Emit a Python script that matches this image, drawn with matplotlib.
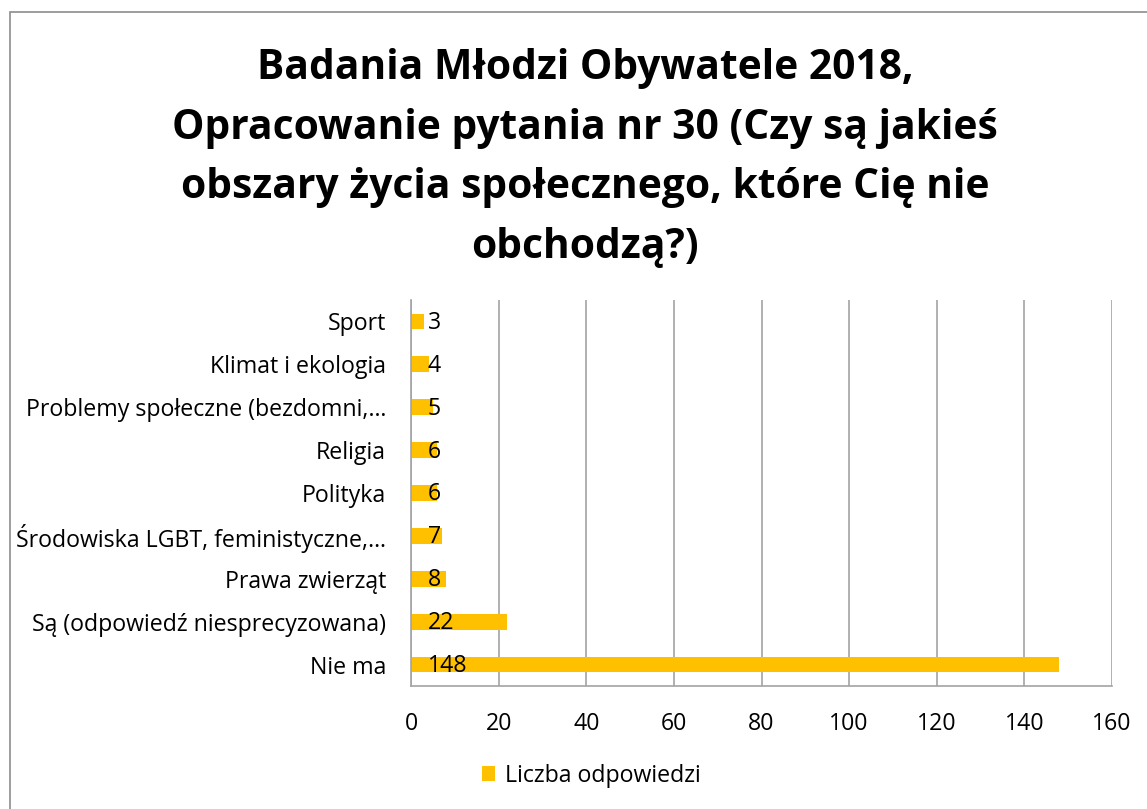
import matplotlib.pyplot as plt
from matplotlib.patches import Rectangle

categories = [
    "Nie ma",
    "Są (odpowiedź niesprecyzowana)",
    "Prawa zwierząt",
    "Środowiska LGBT, feministyczne,…",
    "Polityka",
    "Religia",
    "Problemy społeczne (bezdomni,…",
    "Klimat i ekologia",
    "Sport",
]
values = [148, 22, 8, 7, 6, 6, 5, 4, 3]
x_ticks = [0, 20, 40, 60, 80, 100, 120, 140, 160]
series_name = "Liczba odpowiedzi"
title = ("Badania Młodzi Obywatele 2018,\n"
         "Opracowanie pytania nr 30 (Czy są jakieś\n"
         "obszary życia społecznego, które Cię nie\n"
         "obchodzą?)")

plt.rcParams['font.family'] = ['Open Sans', 'DejaVu Sans']

W, H = 1147, 809
fig = plt.figure(figsize=(W / 100, H / 100), dpi=100)
ax = fig.add_axes([411 / W, 1 - 686 / H, (1112 - 411) / W, (686 - 300) / H])

grid_c = "#A3A3A3"
fs = 16.7
ypos = list(range(len(categories)))
bars = ax.barh(ypos, values, height=0.37, color="#FFC000", label=series_name, zorder=2)

# data labels sit at the base of each bar (Excel "inside base")
for y, v in zip(ypos, values):
    ax.annotate(str(v), xy=(0, y), xytext=(12, -1), textcoords="offset points",
                ha="left", va="center", fontsize=fs, color="black", zorder=3)

ax.set_xlim(0, 160)
ax.set_ylim(-0.5, len(categories) - 0.5)
ax.set_xticks(x_ticks)
ax.set_yticks(ypos)
ax.set_yticklabels(categories, fontsize=fs)
ax.tick_params(axis="x", labelsize=fs, length=0, pad=19)
ax.tick_params(axis="y", length=0, pad=18)
ax.grid(axis="x", color=grid_c, lw=1.2, zorder=0)
ax.set_axisbelow(True)
for s in ["top", "right"]:
    ax.spines[s].set_visible(False)
for s in ["left", "bottom"]:
    ax.spines[s].set_color(grid_c)
    ax.spines[s].set_linewidth(1.2)

fig.text(585 / W, 1 - 158 / H, title, ha="center", va="center",
         fontsize=29.3, fontweight="bold", linespacing=1.6)

fig.legend(handles=[bars], labels=[series_name], loc="center",
           bbox_to_anchor=(591 / W, 1 - 776 / H), frameon=False,
           fontsize=fs, handlelength=0.6, handleheight=0.6, handletextpad=0.4)

fig.patches.append(Rectangle((10 / W, -0.1), 2, 1.1 - 12 / H, transform=fig.transFigure,
                             fill=False, edgecolor="#8C8C8C", lw=1.2))

plt.savefig("out.png", dpi=100)
